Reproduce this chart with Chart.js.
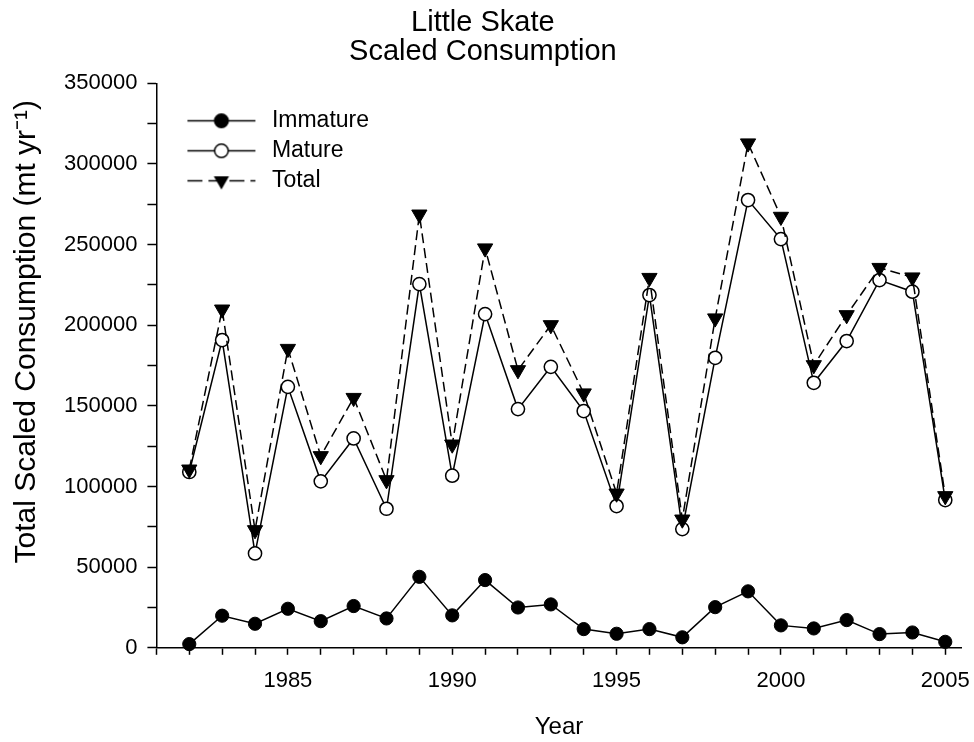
<!DOCTYPE html>
<html>
<head>
<meta charset="utf-8">
<script src="https://cdn.jsdelivr.net/npm/chart.js@4/dist/chart.umd.min.js"></script>
<style>
  html, body { margin: 0; padding: 0; background: #fff; }
  #wrap { width: 974px; height: 742px; }
</style>
</head>
<body>
<div id="wrap"><canvas id="chart"></canvas></div>
<script>
// values (mt / yr)
const years = [1982, 1983, 1984, 1985, 1986, 1987, 1988, 1989, 1990, 1991, 1992, 1993,
               1994, 1995, 1996, 1997, 1998, 1999, 2000, 2001, 2002, 2003, 2004, 2005];
const immature = [2300, 19900, 14900, 24200, 16500, 25900, 18200, 44000, 20100, 42000, 25000, 26900,
                  11600, 8700, 11600, 6500, 25200, 35000, 13900, 12000, 17200, 8500, 9500, 3700];
const mature = [109000, 190800, 58500, 161800, 103200, 129800, 86200, 225500, 106700, 206900, 148000, 174200,
                146800, 87900, 218700, 73600, 179800, 277600, 253400, 164300, 190200, 228000, 220800, 91600];
const total = [110600, 209800, 73000, 185400, 118900, 155000, 104000, 268700, 126100, 247700, 172200, 200100,
               157800, 95700, 229400, 79600, 204300, 312800, 267300, 175300, 206300, 235600, 229700, 94100];

const xTicks = [1981, 1982, 1983, 1984, 1985, 1986, 1987, 1988, 1989, 1990, 1991, 1992, 1993,
                1994, 1995, 1996, 1997, 1998, 1999, 2000, 2001, 2002, 2003, 2004, 2005];
const xLabels = [1985, 1990, 1995, 2000, 2005];
const yTicks = [0, 25000, 50000, 75000, 100000, 125000, 150000, 175000, 200000,
                225000, 250000, 275000, 300000, 325000, 350000];
const yLabels = [0, 50000, 100000, 150000, 200000, 250000, 300000, 350000];

const FONT = "'Liberation Sans', Arial, Helvetica, sans-serif";

function toPoints(vals) {
  return years.map((yr, i) => ({ x: yr, y: vals[i] }));
}

// little canvas used as the legend symbol: line sample with the marker in the middle
function legendIcon(kind) {
  const c = document.createElement("canvas");
  c.width = 97;
  c.height = 23;
  const ctx = c.getContext("2d");
  ctx.strokeStyle = "#000";
  ctx.lineWidth = 1.5;
  if (kind === "total") ctx.setLineDash([15, 6]);
  ctx.beginPath();
  ctx.moveTo(24, 11.5);
  ctx.lineTo(92, 11.5);
  ctx.stroke();
  ctx.setLineDash([]);
  ctx.beginPath();
  if (kind === "total") {
    const r = 8.8;
    ctx.moveTo(58 - r * 0.866, 11.5 - r * 0.5);
    ctx.lineTo(58 + r * 0.866, 11.5 - r * 0.5);
    ctx.lineTo(58, 11.5 + r);
    ctx.closePath();
    ctx.fillStyle = "#000";
    ctx.fill();
  } else {
    ctx.arc(58, 11.5, 6.8, 0, Math.PI * 2);
    ctx.fillStyle = kind === "immature" ? "#000" : "#fff";
    ctx.fill();
    ctx.stroke();
  }
  return c;
}

const icons = [legendIcon("immature"), legendIcon("mature"), legendIcon("total")];

// the chartArea legend gets top = 0 from the layout, push it into the plot
const legendInPlot = {
  id: "legendInPlot",
  afterLayout(chart) {
    const lg = chart.legend;
    const h = lg.bottom - lg.top;
    lg.top = chart.chartArea.top + 19;
    lg.bottom = lg.top + h;
  },
};

new Chart(document.getElementById("chart"), {
  type: "line",
  data: {
    datasets: [
      {
        label: "Immature",
        data: toPoints(immature),
        borderColor: "#000",
        borderWidth: 1.5,
        pointRadius: 6.6,
        pointBackgroundColor: "#000",
        pointBorderColor: "#000",
        pointBorderWidth: 1,
        order: 3,
      },
      {
        label: "Mature",
        data: toPoints(mature),
        borderColor: "#000",
        borderWidth: 1.5,
        pointRadius: 6.6,
        pointBackgroundColor: "#fff",
        pointBorderColor: "#000",
        pointBorderWidth: 1.5,
        order: 2,
      },
      {
        label: "Total",
        data: toPoints(total),
        borderColor: "#000",
        borderWidth: 1.5,
        borderDash: [10, 5],
        pointStyle: "triangle",
        pointRotation: 180,
        pointRadius: 8.8,
        pointBackgroundColor: "#000",
        pointBorderColor: "#000",
        pointBorderWidth: 1,
        order: 1,
      },
    ],
  },
  plugins: [legendInPlot],
  options: {
    responsive: true,
    maintainAspectRatio: false,
    animation: false,
    clip: false,
    layout: { padding: { left: 4, right: 12.3, top: 8, bottom: 0 } },
    plugins: {
      tooltip: { enabled: false },
      title: {
        display: true,
        text: ["Little Skate", "Scaled Consumption"],
        color: "#000",
        font: { family: FONT, size: 29, weight: "normal", lineHeight: 1 },
        padding: { top: 0, bottom: 17.3 },
      },
      legend: {
        position: "chartArea",
        align: "start",
        labels: {
          usePointStyle: true,
          pointStyleWidth: 97,
          padding: 7,
          color: "#000",
          font: { family: FONT, size: 23 },
          generateLabels: (chart) =>
            chart.data.datasets.map((ds, i) => ({
              text: ds.label,
              pointStyle: icons[i],
              fillStyle: "#000",
              strokeStyle: "#000",
              lineWidth: 0,
              fontColor: "#000",
              hidden: false,
              datasetIndex: i,
            })),
        },
      },
    },
    scales: {
      x: {
        type: "linear",
        min: 1981,
        max: 2005.5,
        afterBuildTicks: (scale) => {
          scale.ticks = xTicks.map((v) => ({ value: v }));
        },
        afterFit: (scale) => {
          scale.paddingLeft = 0;
          scale.paddingRight = 0;
        },
        ticks: {
          autoSkip: false,
          maxRotation: 0,
          color: "#000",
          padding: 13,
          font: { family: FONT, size: 22 },
          callback: (v) => (xLabels.includes(v) ? String(v) : ""),
        },
        grid: { drawOnChartArea: false, drawTicks: true, tickLength: 7, tickWidth: 1.5, tickColor: "#000" },
        border: { display: true, color: "#000", width: 1.5 },
        title: {
          display: true,
          text: "Year",
          color: "#000",
          font: { family: FONT, size: 24 },
          padding: { top: 6, bottom: 0 },
        },
      },
      y: {
        type: "linear",
        min: 0,
        max: 350000,
        afterBuildTicks: (scale) => {
          scale.ticks = yTicks.map((v) => ({ value: v }));
        },
        ticks: {
          autoSkip: false,
          color: "#000",
          padding: 10,
          font: { family: FONT, size: 22 },
          callback: (v) => (yLabels.includes(v) ? String(v) : ""),
        },
        grid: { drawOnChartArea: false, drawTicks: true, tickLength: 9, tickWidth: 1.5, tickColor: "#000" },
        border: { display: true, color: "#000", width: 1.5 },
        title: {
          display: true,
          align: "end",
          text: "Total Scaled Consumption (mt yr\u207B\u00B9)  ",
          color: "#000",
          font: { family: FONT, size: 30 },
          padding: { top: 5, bottom: 9 },
        },
      },
    },
  },
});
</script>
</body>
</html>
